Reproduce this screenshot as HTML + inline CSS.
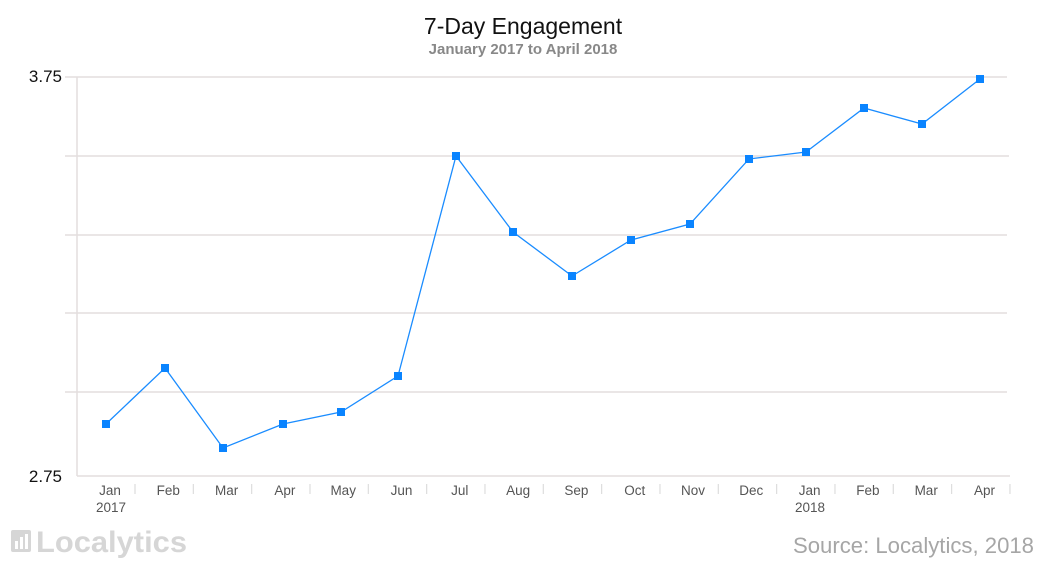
<!DOCTYPE html>
<html><head><meta charset="utf-8"><style>
body{margin:0;background:#fff;}
svg text{font-family:"Liberation Sans",sans-serif;}
</style></head><body>
<svg width="1047" height="566" viewBox="0 0 1047 566" xmlns="http://www.w3.org/2000/svg">
<text x="523" y="34" text-anchor="middle" font-size="23" fill="#111">7-Day Engagement</text>
<text x="523" y="54" text-anchor="middle" font-size="15" fill="#888" font-weight="bold">January 2017 to April 2018</text>
<g stroke="#e3dede" stroke-width="1.5">
<line x1="65" y1="77" x2="1007" y2="77"/>
<line x1="65" y1="156" x2="1009" y2="156"/>
<line x1="65" y1="235" x2="1007" y2="235"/>
<line x1="65" y1="313" x2="1007" y2="313"/>
<line x1="65" y1="392" x2="1007" y2="392"/>
<line x1="77" y1="476" x2="1010" y2="476"/>
<line x1="77" y1="77" x2="77" y2="476"/>
</g>
<g stroke="#ddd" stroke-width="1.2" id="ticks"></g>
<text x="62" y="82" text-anchor="end" font-size="17" fill="#111">3.75</text>
<text x="62" y="482" text-anchor="end" font-size="17" fill="#111">2.75</text>
<g font-size="13.5" fill="#555" text-anchor="middle" id="xl"></g>
<polyline fill="none" stroke="#1a8cff" stroke-width="1.3" points="106,424 165,368 223,448 283,424 341,412 398,376 456,156 513,232 572,276 631,240 690,224 749,159 806,152 864,108 922,124 980,79"/>
<g fill="#0a84ff" id="pts"></g>
<g fill="#d6d6d6">
<rect x="11" y="530" width="20" height="22" rx="2"/>
</g>
<g fill="#fff"><rect x="15" y="541" width="3" height="8"/><rect x="20" y="537" width="3" height="12"/><rect x="25" y="534" width="3" height="15"/></g>
<text x="36" y="552" font-size="30" font-weight="bold" fill="#d6d6d6" textLength="151" lengthAdjust="spacingAndGlyphs">Localytics</text>
<text x="1034" y="553" text-anchor="end" font-size="22" fill="#a6a6a6" textLength="241" lengthAdjust="spacingAndGlyphs">Source: Localytics, 2018</text>
</svg>
<script>
var ns="http://www.w3.org/2000/svg";
var t=document.getElementById("ticks");
for(var k=0;k<16;k++){var x=135+58.33*k;var l=document.createElementNS(ns,"line");l.setAttribute("x1",x);l.setAttribute("x2",x);l.setAttribute("y1",484);l.setAttribute("y2",494);t.appendChild(l);}
var labs=["Jan","Feb","Mar","Apr","May","Jun","Jul","Aug","Sep","Oct","Nov","Dec","Jan","Feb","Mar","Apr"];
var g=document.getElementById("xl");
labs.forEach(function(s,i){var x=110+58.3*i;var e=document.createElementNS(ns,"text");e.setAttribute("x",x);e.setAttribute("y",495);e.textContent=s;g.appendChild(e);});
[[111,"2017"],[810,"2018"]].forEach(function(a){var e=document.createElementNS(ns,"text");e.setAttribute("x",a[0]);e.setAttribute("y",512);e.textContent=a[1];g.appendChild(e);});
var p=[[106,424],[165,368],[223,448],[283,424],[341,412],[398,376],[456,156],[513,232],[572,276],[631,240],[690,224],[749,159],[806,152],[864,108],[922,124],[980,79]];
var pg=document.getElementById("pts");
p.forEach(function(q){var r=document.createElementNS(ns,"rect");r.setAttribute("x",q[0]-4);r.setAttribute("y",q[1]-4);r.setAttribute("width",8);r.setAttribute("height",8);pg.appendChild(r);});
</script>
</body></html>
